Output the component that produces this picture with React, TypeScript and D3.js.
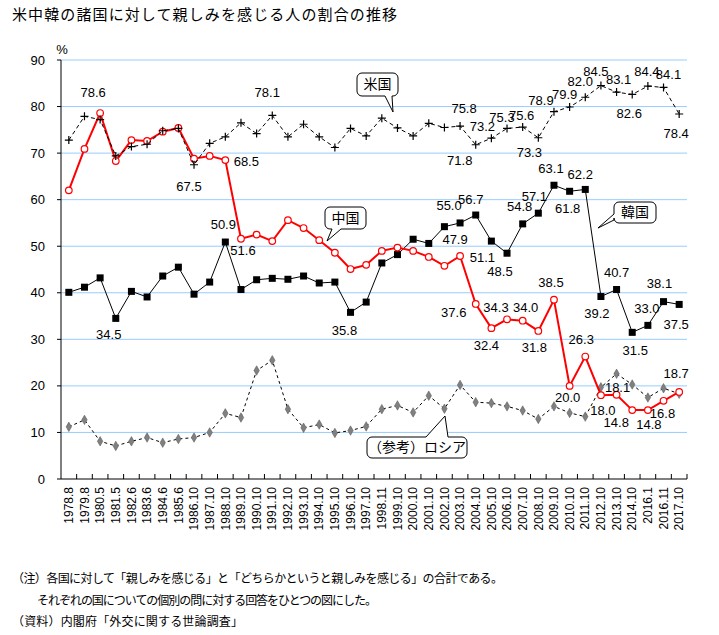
import React, { useRef, useEffect } from "react";
import * as d3 from "d3";

// survey dates (x axis)
const surveyDates = [
  "1978.8", "1979.8", "1980.5", "1981.5", "1982.6", "1983.6", "1984.6", "1985.6",
  "1986.10", "1987.10", "1988.10", "1989.10", "1990.10", "1991.10", "1992.10", "1993.10",
  "1994.10", "1995.10", "1996.10", "1997.10", "1998.11", "1999.10", "2000.10", "2001.10",
  "2002.10", "2003.10", "2004.10", "2005.10", "2006.10", "2007.10", "2008.10", "2009.10",
  "2010.10", "2011.10", "2012.10", "2013.10", "2014.10", "2016.1", "2016.11", "2017.10",
];

const usaValues = [
  72.8, 77.9, 77.2, 69.4, 71.4, 71.9, 74.8, 75.3, 67.5, 72.1, 73.5, 76.5, 74.2, 78.1,
  73.5, 76.2, 73.5, 71.2, 75.3, 73.7, 77.5, 75.4, 73.7, 76.4, 75.5, 75.8, 71.8, 73.2,
  75.3, 75.6, 73.3, 78.9, 79.9, 82.0, 84.5, 83.1, 82.6, 84.4, 84.1, 78.4,
];

const chinaValues = [
  62.0, 70.9, 78.6, 68.3, 72.8, 72.6, 74.6, 75.4, 68.8, 69.4, 68.5, 51.6, 52.5, 51.1,
  55.6, 53.9, 51.3, 48.6, 45.1, 46.0, 49.0, 49.7, 49.0, 47.7, 45.8, 47.9, 37.6, 32.4,
  34.3, 34.0, 31.8, 38.5, 20.0, 26.3, 18.0, 18.1, 14.8, 14.8, 16.8, 18.7,
];

const koreaValues = [
  40.1, 41.2, 43.2, 34.5, 40.3, 39.1, 43.6, 45.5, 39.7, 42.3, 50.9, 40.7, 42.8, 43.1,
  42.9, 43.6, 42.1, 42.3, 35.8, 38.0, 46.4, 48.2, 51.5, 50.6, 54.2, 55.0, 56.7, 51.1,
  48.5, 54.8, 57.1, 63.1, 61.8, 62.2, 39.2, 40.7, 31.5, 33.0, 38.1, 37.5,
];

const russiaValues = [
  11.2, 12.7, 8.1, 7.1, 8.1, 8.9, 7.8, 8.6, 8.9, 10.0, 14.1, 13.2, 23.3, 25.5,
  15.0, 11.0, 11.7, 9.9, 10.4, 11.3, 15.0, 15.8, 14.3, 17.9, 15.1, 20.2, 16.5, 16.3,
  15.6, 14.7, 12.9, 15.6, 14.2, 13.4, 19.7, 22.6, 20.3, 17.5, 19.5, 18.3,
];

const yTicks = [0, 10, 20, 30, 40, 50, 60, 70, 80, 90];

// which points get a value label, and where the label sits relative to the point
// [series, index, dx, dy]
const valueLabels: [string, number, number, number][] = [
  ["usa", 13, -5, -23], ["usa", 8, -5, 22], ["usa", 25, 4, -18], ["usa", 26, -16, 16],
  ["usa", 27, -9, -12], ["usa", 28, -5, -11], ["usa", 29, -1, -12], ["usa", 30, -9, 15],
  ["usa", 31, -13, -11], ["usa", 32, -5, -13], ["usa", 33, -5, -16], ["usa", 34, -5, -14],
  ["usa", 35, 2, -13], ["usa", 36, -3, 19], ["usa", 37, -1, -15], ["usa", 38, 5, -13],
  ["usa", 39, -3, 19],
  ["china", 2, -7, -21], ["china", 10, 21, 1], ["china", 11, 2, 12], ["china", 25, -5, -17],
  ["china", 26, -22, 8], ["china", 27, -5, 17], ["china", 28, -11, -12], ["china", 29, 3, -13],
  ["china", 30, -4, 16], ["china", 31, -3, -17], ["china", 32, -2, 12], ["china", 33, -4, -17],
  ["china", 34, 2, 15], ["china", 35, 1, -7], ["china", 36, -16, 12], ["china", 37, 1, 14],
  ["china", 38, -1, 13], ["china", 39, -3, -18],
  ["korea", 3, -7, 16], ["korea", 10, -2, -18], ["korea", 18, -6, 18], ["korea", 25, -11, -17],
  ["korea", 26, -5, -16], ["korea", 27, -9, 16], ["korea", 28, -7, 18], ["korea", 29, -3, -17],
  ["korea", 30, -4, -17], ["korea", 31, -3, -17], ["korea", 32, -2, 17], ["korea", 33, -5, -15],
  ["korea", 34, -4, 17], ["korea", 35, 0, -17], ["korea", 36, 3, 18], ["korea", 37, -1, -17],
  ["korea", 38, -4, -18], ["korea", 39, -3, 20],
];

const noteLines = [
  "（注）各国に対して「親しみを感じる」と「どちらかというと親しみを感じる」の合計である。",
  "それぞれの国についての個別の問に対する回答をひとつの図にした。",
  "（資料）内閣府「外交に関する世論調査」",
];

const JP = `"Noto Sans CJK JP", sans-serif`;
const NUM = `"Liberation Sans", Arial, sans-serif`;

// rounded box with a pointer tail on one side
function calloutPath(
  x: number, y: number, w: number, h: number, r: number,
  side: string, b1: number, b2: number, ax: number, ay: number
) {
  const p = d3.path();
  p.moveTo(x + r, y);
  if (side === "top") { p.lineTo(b1, y); p.lineTo(ax, ay); p.lineTo(b2, y); }
  p.lineTo(x + w - r, y);
  p.arcTo(x + w, y, x + w, y + r, r);
  p.lineTo(x + w, y + h - r);
  p.arcTo(x + w, y + h, x + w - r, y + h, r);
  if (side === "bottom") { p.lineTo(b2, y + h); p.lineTo(ax, ay); p.lineTo(b1, y + h); }
  p.lineTo(x + r, y + h);
  p.arcTo(x, y + h, x, y + h - r, r);
  if (side === "left") { p.lineTo(x, b2); p.lineTo(ax, ay); p.lineTo(x, b1); }
  p.lineTo(x, y + r);
  p.arcTo(x, y, x + r, y, r);
  p.closePath();
  return p.toString();
}

const App: React.FC = () => {
  const svgRef = useRef<SVGSVGElement>(null);

  useEffect(() => {
    document.body.style.margin = "0";
    const svg = d3.select(svgRef.current);
    svg.selectAll("*").remove();

    const left = 61, right = 687, top = 60, bottom = 479;

    const x = d3.scaleBand<string>().domain(surveyDates).range([left, right]);
    const cx = (i: number) => (x(surveyDates[i]) as number) + x.bandwidth() / 2;
    const y = d3.scaleLinear().domain([0, 90]).range([bottom, top]);

    // title
    svg.append("text")
      .attr("x", 12).attr("y", 20)
      .attr("textLength", 385)
      .style("font-family", JP).style("font-size", "15px")
      .text("米中韓の諸国に対して親しみを感じる人の割合の推移");

    // grid
    svg.append("g")
      .selectAll("line")
      .data(yTicks.filter((t) => t > 0))
      .enter()
      .append("line")
      .attr("x1", left).attr("x2", right)
      .attr("y1", (d) => y(d)).attr("y2", (d) => y(d))
      .attr("stroke", "#99ccff").attr("stroke-width", 1);

    // y axis
    const yAxis = svg.append("g");
    yAxis.append("line")
      .attr("x1", left).attr("x2", left).attr("y1", top).attr("y2", bottom)
      .attr("stroke", "#000");
    yAxis.selectAll("line.tick")
      .data(yTicks)
      .enter()
      .append("line")
      .attr("class", "tick")
      .attr("x1", left - 4).attr("x2", left)
      .attr("y1", (d) => y(d)).attr("y2", (d) => y(d))
      .attr("stroke", "#000");
    yAxis.selectAll("text")
      .data(yTicks)
      .enter()
      .append("text")
      .attr("x", 45).attr("y", (d) => y(d))
      .attr("dy", "0.35em")
      .attr("text-anchor", "end")
      .style("font-family", NUM).style("font-size", "13px")
      .text((d) => d);
    svg.append("text")
      .attr("x", 62).attr("y", 54)
      .attr("text-anchor", "middle")
      .style("font-family", NUM).style("font-size", "13px")
      .text("%");

    // x axis
    const xAxis = svg.append("g");
    xAxis.append("line")
      .attr("x1", left).attr("x2", right).attr("y1", bottom).attr("y2", bottom)
      .attr("stroke", "#000");
    xAxis.selectAll("line.tick")
      .data(surveyDates.slice(1))
      .enter()
      .append("line")
      .attr("class", "tick")
      .attr("x1", (d) => x(d) as number).attr("x2", (d) => x(d) as number)
      .attr("y1", bottom - 5).attr("y2", bottom)
      .attr("stroke", "#000");
    xAxis.append("line")
      .attr("x1", right).attr("x2", right).attr("y1", bottom - 5).attr("y2", bottom)
      .attr("stroke", "#000");
    xAxis.selectAll("text")
      .data(surveyDates)
      .enter()
      .append("text")
      .attr("transform", (d, i) => `translate(${cx(i)},${bottom + 8}) rotate(-90)`)
      .attr("dy", "0.35em")
      .attr("text-anchor", "end")
      .style("font-family", NUM).style("font-size", "12px")
      .text((d) => d);

    const line = d3.line<number>().x((d, i) => cx(i)).y((d) => y(d));

    // Russia
    svg.append("path")
      .attr("d", line(russiaValues))
      .attr("fill", "none").attr("stroke", "#000").attr("stroke-width", 1)
      .attr("stroke-dasharray", "3,3");
    svg.append("g")
      .selectAll("path")
      .data(russiaValues)
      .enter()
      .append("path")
      .attr("d", d3.symbol().type(d3.symbolDiamond).size(26)())
      .attr("transform", (d, i) => `translate(${cx(i)},${y(d)})`)
      .attr("fill", "#808080").attr("stroke", "#555").attr("stroke-width", 0.5);

    // Korea
    svg.append("path")
      .attr("d", line(koreaValues))
      .attr("fill", "none").attr("stroke", "#000").attr("stroke-width", 1);
    svg.append("g")
      .selectAll("rect")
      .data(koreaValues)
      .enter()
      .append("rect")
      .attr("x", (d, i) => cx(i) - 3.5).attr("y", (d) => y(d) - 3.5)
      .attr("width", 7).attr("height", 7)
      .attr("fill", "#000");

    // China
    svg.append("path")
      .attr("d", line(chinaValues))
      .attr("fill", "none").attr("stroke", "#ff0000").attr("stroke-width", 2);
    svg.append("g")
      .selectAll("circle")
      .data(chinaValues)
      .enter()
      .append("circle")
      .attr("cx", (d, i) => cx(i)).attr("cy", (d) => y(d))
      .attr("r", 3.3)
      .attr("fill", "#fff").attr("stroke", "#ff0000").attr("stroke-width", 1.2);

    // USA
    svg.append("path")
      .attr("d", line(usaValues))
      .attr("fill", "none").attr("stroke", "#000").attr("stroke-width", 1)
      .attr("stroke-dasharray", "4,3");
    svg.append("g")
      .selectAll("path")
      .data(usaValues)
      .enter()
      .append("path")
      .attr("d", (d, i) => `M${cx(i) - 4},${y(d)}H${cx(i) + 4}M${cx(i)},${y(d) - 4}V${y(d) + 4}`)
      .attr("stroke", "#000").attr("stroke-width", 1.2);

    // value labels
    const seriesMap: { [k: string]: number[] } = {
      usa: usaValues, china: chinaValues, korea: koreaValues,
    };
    svg.append("g")
      .selectAll("text")
      .data(valueLabels)
      .enter()
      .append("text")
      .attr("x", (d) => cx(d[1]) + d[2])
      .attr("y", (d) => y(seriesMap[d[0]][d[1]]) + d[3])
      .attr("dy", "0.35em")
      .attr("text-anchor", "middle")
      .style("font-family", NUM).style("font-size", "13px")
      .text((d) => seriesMap[d[0]][d[1]].toFixed(1));

    // callouts
    const callouts = [
      { text: "米国", x: 357, y: 73, w: 41, h: 23, side: "bottom", b1: 385, b2: 392, ax: 393, ay: 112 },
      { text: "中国", x: 325, y: 207, w: 41, h: 22, side: "bottom", b1: 332, b2: 341, ax: 327, ay: 241 },
      { text: "韓国", x: 614, y: 202, w: 42, h: 21, side: "left", b1: 214, b2: 220, ax: 598, ay: 228 },
      { text: "（参考）ロシア", x: 367, y: 437, w: 100, h: 21, side: "top", b1: 426, b2: 448, ax: 445, ay: 416 },
    ];
    const cg = svg.append("g");
    callouts.forEach((c) => {
      cg.append("path")
        .attr("d", calloutPath(c.x, c.y, c.w, c.h, 5, c.side, c.b1, c.b2, c.ax, c.ay))
        .attr("fill", "#fff").attr("stroke", "#000").attr("stroke-width", 1);
      cg.append("text")
        .attr("x", c.x + c.w / 2).attr("y", c.y + c.h / 2)
        .attr("dy", "0.35em")
        .attr("text-anchor", "middle")
        .style("font-family", JP).style("font-size", "14px")
        .text(c.text);
    });

    // notes
    const notes = svg.append("g").style("font-family", JP).style("font-size", "12px");
    notes.append("text").attr("x", 12).attr("y", 583).attr("textLength", 491).text(noteLines[0]);
    notes.append("text").attr("x", 37).attr("y", 605).attr("textLength", 340).text(noteLines[1]);
    notes.append("text").attr("x", 12).attr("y", 626).attr("textLength", 231).text(noteLines[2]);
  }, []);

  return <svg ref={svgRef} width={719} height={635} style={{ display: "block" }}></svg>;
};

export default App;
